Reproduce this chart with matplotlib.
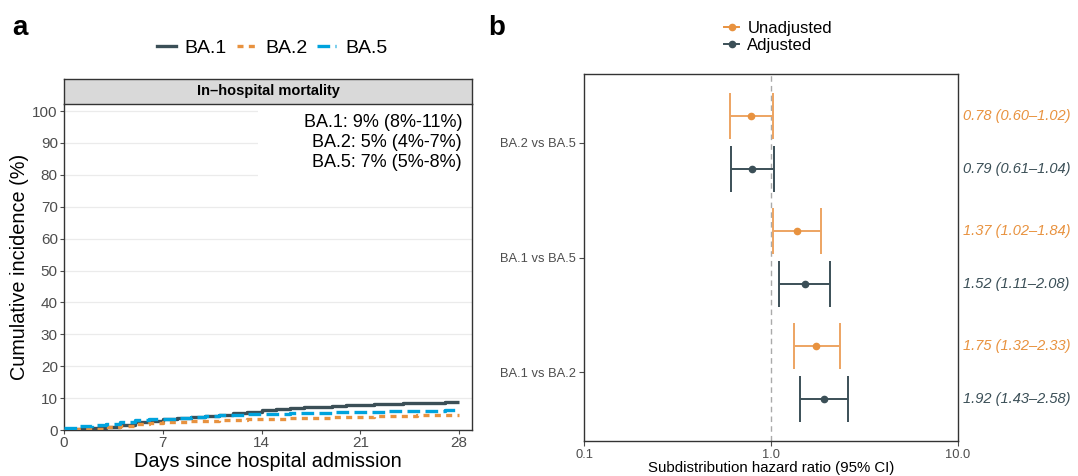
import matplotlib
matplotlib.use("Agg")
import matplotlib.pyplot as plt
from matplotlib.lines import Line2D
from matplotlib.patches import Rectangle
import numpy as np

plt.rcParams['font.family'] = ['Liberation Sans', 'DejaVu Sans']

# ---------------- data ----------------
days = list(range(0, 29))
ba1 = [0.2, 0.4, 0.5, 1.0, 1.7, 2.4, 2.9, 3.3, 3.7, 4.1, 4.5, 4.8, 5.2, 5.7, 6.3,
       6.6, 6.9, 7.1, 7.3, 7.5, 7.7, 7.9, 8.1, 8.3, 8.4, 8.5, 8.6, 8.7, 8.8]
ba2 = [0.0, 0.2, 0.4, 0.8, 1.4, 1.9, 2.2, 2.4, 2.6, 2.7, 2.9, 3.0, 3.2, 3.4, 3.5,
       3.6, 3.7, 3.8, 3.9, 4.0, 4.1, 4.2, 4.3, 4.4, 4.5, 4.6, 4.6, 4.7, 4.8]
ba5 = [0.5, 1.1, 1.6, 2.0, 2.5, 3.0, 3.3, 3.6, 3.8, 4.0, 4.3, 4.6, 4.8, 5.0, 5.0,
       5.1, 5.2, 5.3, 5.4, 5.5, 5.5, 5.6, 5.7, 5.8, 5.9, 6.0, 6.1, 6.2, 6.2]
variant_labels = ["BA.1", "BA.2", "BA.5"]
annot_lines = ["BA.1: 9% (8%-11%)", "BA.2: 5% (4%-7%)", "BA.5: 7% (5%-8%)"]
x_ticks_a = [0, 7, 14, 21, 28]
y_ticks_a = list(range(0, 101, 10))

comparisons = ["BA.2 vs BA.5", "BA.1 vs BA.5", "BA.1 vs BA.2"]
unadj_hr = [0.78, 1.37, 1.75]
unadj_lo = [0.60, 1.02, 1.32]
unadj_hi = [1.02, 1.84, 2.33]
adj_hr = [0.79, 1.52, 1.92]
adj_lo = [0.61, 1.11, 1.43]
adj_hi = [1.04, 2.08, 2.58]
unadj_text = ["0.78 (0.60–1.02)", "1.37 (1.02–1.84)", "1.75 (1.32–2.33)"]
adj_text = ["0.79 (0.61–1.04)", "1.52 (1.11–2.08)", "1.92 (1.43–2.58)"]

# ---------------- style ----------------
C_DARK = "#3B4F57"
C_ORANGE = "#E8923F"
C_ORANGE_L = "#EDA462"
C_BLUE = "#00A3DD"
TICK_C = "#4D4D4D"
SPINE_C = "#333333"

W, H = 1078, 476
fig = plt.figure(figsize=(W / 100, H / 100), dpi=100)

def fx(px):
    return px / W

def fy(py):
    return 1 - py / H

# ---------------- panel a ----------------
axa = fig.add_axes([fx(64), fy(430), fx(472 - 64), fy(104) - fy(430)])
axa.step(days, ba1, where="post", color=C_DARK, lw=2.4, solid_capstyle="butt", zorder=3)
axa.step(days, ba2, where="post", color=C_ORANGE, lw=2.4, ls=(0, (1.8, 1.6)), zorder=3)
axa.step(days, ba5, where="post", color=C_BLUE, lw=2.4, ls=(0, (3.8, 1.6)), zorder=3)
axa.set_xlim(0, 28.92)
axa.set_ylim(0, 102.2)
axa.set_xticks(x_ticks_a)
axa.set_yticks(y_ticks_a)
axa.yaxis.grid(True, color="#EBEBEB", lw=0.9)
axa.set_axisbelow(True)
axa.tick_params(axis="both", labelsize=11, colors=TICK_C, length=3, width=0.8, pad=1.5)
for sp in axa.spines.values():
    sp.set_color(SPINE_C)
    sp.set_linewidth(1.0)
axa.spines["top"].set_visible(False)
axa.set_xlabel("Days since hospital admission", fontsize=14.3, labelpad=1)
axa.set_ylabel("Cumulative incidence (%)", fontsize=14.3, labelpad=2)

# white label background hiding gridlines, then text
axa.add_patch(Rectangle((0.475, 0.765), 0.525, 0.235, transform=axa.transAxes,
                        facecolor="white", edgecolor="none", zorder=2))
axa.text(0.9755, 0.969, "\n".join(annot_lines), transform=axa.transAxes,
         ha="right", va="top", fontsize=13, linespacing=1.22, zorder=4)

# strip
strip = fig.add_axes([fx(64), fy(104), fx(472 - 64), fy(79) - fy(104)])
strip.set_facecolor("#D9D9D9")
strip.set_xticks([])
strip.set_yticks([])
for sp in strip.spines.values():
    sp.set_color(SPINE_C)
    sp.set_linewidth(1.0)
strip.text(0.5, 0.5, "In–hospital mortality", ha="center", va="center",
           fontsize=10.5, fontweight="bold", transform=strip.transAxes)

handles_a = [
    Line2D([], [], color=C_DARK, lw=2.4),
    Line2D([], [], color=C_ORANGE, lw=2.4, ls=(0, (1.8, 1.6))),
    Line2D([], [], color=C_BLUE, lw=2.4, ls=(0, (3.8, 1.6))),
]
fig.legend(handles_a, variant_labels, loc="center", bbox_to_anchor=(fx(272), fy(48)),
           ncol=3, frameon=False, fontsize=14, handlelength=1.0, handletextpad=0.45,
           columnspacing=0.5)

fig.text(fx(12), fy(28), "a", fontsize=20, fontweight="bold", va="center", ha="left")
fig.text(fx(488), fy(28), "b", fontsize=20, fontweight="bold", va="center", ha="left")

# ---------------- panel b ----------------
axb = fig.add_axes([fx(584), fy(441), fx(958 - 584), fy(74) - fy(441)])
axb.set_xscale("log")
axb.set_xlim(0.1, 10)
axb.set_ylim(0.4, 3.6)
ypos = [3, 2, 1]
off = 0.23
cap = 0.2
axb.axvline(1.0, color="#AAAAAA", ls=(0, (4, 3)), lw=1.0, zorder=1)
for i, y in enumerate(ypos):
    yu = y + off
    ya = y - off
    axb.hlines(yu, unadj_lo[i], unadj_hi[i], color=C_ORANGE_L, lw=1.4, zorder=2)
    axb.vlines([unadj_lo[i], unadj_hi[i]], yu - cap, yu + cap, color=C_ORANGE_L, lw=1.4, zorder=2)
    axb.plot(unadj_hr[i], yu, "o", color=C_ORANGE, ms=4.5, zorder=3)
    axb.hlines(ya, adj_lo[i], adj_hi[i], color=C_DARK, lw=1.4, zorder=2)
    axb.vlines([adj_lo[i], adj_hi[i]], ya - cap, ya + cap, color=C_DARK, lw=1.4, zorder=2)
    axb.plot(adj_hr[i], ya, "o", color=C_DARK, ms=4.5, zorder=3)
    axb.text(1.013, yu, unadj_text[i], transform=axb.get_yaxis_transform(),
             ha="left", va="center", fontsize=10.5, style="italic", color=C_ORANGE)
    axb.text(1.013, ya, adj_text[i], transform=axb.get_yaxis_transform(),
             ha="left", va="center", fontsize=10.5, style="italic", color=C_DARK)
axb.set_yticks(ypos)
axb.set_yticklabels(comparisons)
axb.set_xticks([0.1, 1.0, 10.0])
axb.set_xticklabels(["0.1", "1.0", "10.0"])
axb.xaxis.set_minor_locator(matplotlib.ticker.NullLocator())
axb.tick_params(axis="both", labelsize=9.3, colors=TICK_C, length=3.5, width=0.8, pad=2)
for sp in axb.spines.values():
    sp.set_color(SPINE_C)
    sp.set_linewidth(1.0)
axb.set_xlabel("Subdistribution hazard ratio (95% CI)", fontsize=10.8, labelpad=0.5)

handles_b = [
    Line2D([], [], color=C_ORANGE, lw=1.4, marker="o", ms=4.5),
    Line2D([], [], color=C_DARK, lw=1.4, marker="o", ms=4.5),
]
fig.legend(handles_b, ["Unadjusted", "Adjusted"], loc="center",
           bbox_to_anchor=(fx(778), fy(37)), ncol=1, frameon=False, fontsize=12,
           handlelength=0.9, handletextpad=0.5, labelspacing=0.12)

fig.savefig("out.png", dpi=100)
